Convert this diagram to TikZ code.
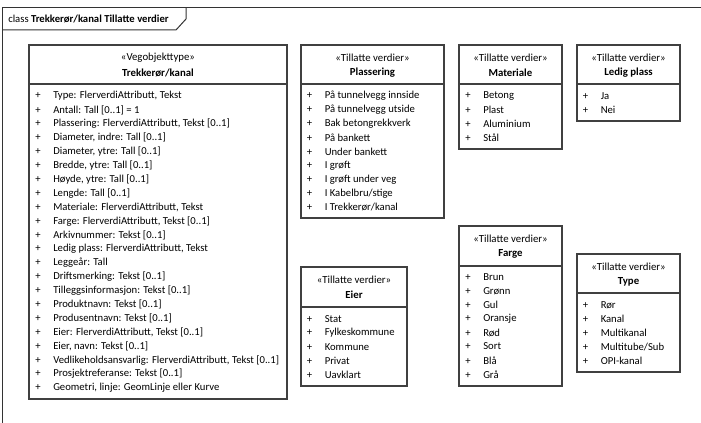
\documentclass[tikz,border=0pt]{standalone}
\usepackage{fontspec}
\setmainfont{Carlito}
\newcommand{\pl}{\makebox[13.5pt][l]{+}}

\begin{document}
\begin{tikzpicture}[x=0.75pt,y=-0.75pt,
  frame/.style={draw=black!80,line width=0.75pt},
  klasse/.style={draw=black!75,line width=0.9pt},
  stereo/.style={inner sep=0pt,font=\fontsize{8.1}{10}\selectfont},
  cname/.style={inner sep=0pt,font=\fontsize{8.1}{10}\selectfont\bfseries},
  item/.style={anchor=west,inner sep=0pt,font=\fontsize{8}{10}\selectfont}]
\useasboundingbox (0,0) rectangle (701,423);
% diagram frame
\draw[frame] (2,423) -- (2,8) -- (701,8);
\draw[frame] (2,30) -- (176,30) -- (186,19) -- (186,8);
\node[item] (title) at (8,19) {class \textbf{Trekkerør/kanal Tillatte verdier}};

% Trekkerør/kanal
\draw[klasse] (29,45) rectangle (287,399);
\draw[klasse] (29,84) -- (287,84);
\node[stereo] (kanal-st) at (158,58) {«Vegobjekttype»};
\node[cname] (kanal) at (158,73) {Trekkerør/kanal};
\node[item] (k1) at (35,96) {\pl Type: FlerverdiAttributt, Tekst};
\node[item] (k2) at (35,109.9) {\pl Antall: Tall [0..1] = 1};
\node[item] (k3) at (35,123.8) {\pl Plassering: FlerverdiAttributt, Tekst [0..1]};
\node[item] (k4) at (35,137.7) {\pl Diameter, indre: Tall [0..1]};
\node[item] (k5) at (35,151.6) {\pl Diameter, ytre: Tall [0..1]};
\node[item] (k6) at (35,165.5) {\pl Bredde, ytre: Tall [0..1]};
\node[item] (k7) at (35,179.4) {\pl Høyde, ytre: Tall [0..1]};
\node[item] (k8) at (35,193.3) {\pl Lengde: Tall [0..1]};
\node[item] (k9) at (35,207.2) {\pl Materiale: FlerverdiAttributt, Tekst};
\node[item] (k10) at (35,221.1) {\pl Farge: FlerverdiAttributt, Tekst [0..1]};
\node[item] (k11) at (35,235) {\pl Arkivnummer: Tekst [0..1]};
\node[item] (k12) at (35,248.9) {\pl Ledig plass: FlerverdiAttributt, Tekst};
\node[item] (k13) at (35,262.8) {\pl Leggeår: Tall};
\node[item] (k14) at (35,276.7) {\pl Driftsmerking: Tekst [0..1]};
\node[item] (k15) at (35,290.6) {\pl Tilleggsinformasjon: Tekst [0..1]};
\node[item] (k16) at (35,304.5) {\pl Produktnavn: Tekst [0..1]};
\node[item] (k17) at (35,318.4) {\pl Produsentnavn: Tekst [0..1]};
\node[item] (k18) at (35,332.3) {\pl Eier: FlerverdiAttributt, Tekst [0..1]};
\node[item] (k19) at (35,346.2) {\pl Eier, navn: Tekst [0..1]};
\node[item] (k20) at (35,360.1) {\pl Vedlikeholdsansvarlig: FlerverdiAttributt, Tekst [0..1]};
\node[item] (k21) at (35,374) {\pl Prosjektreferanse: Tekst [0..1]};
\node[item] (k22) at (35,387.9) {\pl Geometri, linje: GeomLinje eller Kurve};

% Plassering
\draw[klasse] (301,45) rectangle (444,218);
\draw[klasse] (301,84) -- (444,84);
\node[stereo] (plassering-st) at (372.5,58) {«Tillatte verdier»};
\node[cname] (plassering) at (372.5,73) {Plassering};
\node[item] (p1) at (306.5,96) {\pl På tunnelvegg innside};
\node[item] (p2) at (306.5,109.9) {\pl På tunnelvegg utside};
\node[item] (p3) at (306.5,123.8) {\pl Bak betongrekkverk};
\node[item] (p4) at (306.5,137.7) {\pl På bankett};
\node[item] (p5) at (306.5,151.6) {\pl Under bankett};
\node[item] (p6) at (306.5,165.5) {\pl I grøft};
\node[item] (p7) at (306.5,179.4) {\pl I grøft under veg};
\node[item] (p8) at (306.5,193.3) {\pl I Kabelbru/stige};
\node[item] (p9) at (306.5,207.2) {\pl I Trekkerør/kanal};

% Materiale
\draw[klasse] (459,45) rectangle (562,149);
\draw[klasse] (459,84) -- (562,84);
\node[stereo] (materiale-st) at (510.5,58) {«Tillatte verdier»};
\node[cname] (materiale) at (510.5,73) {Materiale};
\node[item] (m1) at (465,96) {\pl Betong};
\node[item] (m2) at (465,109.9) {\pl Plast};
\node[item] (m3) at (465,123.8) {\pl Aluminium};
\node[item] (m4) at (465,137.7) {\pl Stål};

% Ledig plass
\draw[klasse] (577,45) rectangle (680,121);
\draw[klasse] (577,84) -- (680,84);
\node[stereo] (ledig-st) at (628.5,58) {«Tillatte verdier»};
\node[cname] (ledig) at (628.5,73) {Ledig plass};
\node[item] (l1) at (582.5,96) {\pl Ja};
\node[item] (l2) at (582.5,109.9) {\pl Nei};

% Eier
\draw[klasse] (301,267) rectangle (407,386);
\draw[klasse] (301,307) -- (407,307);
\node[stereo] (eier-st) at (354,280) {«Tillatte verdier»};
\node[cname] (eier) at (354,295) {Eier};
\node[item] (e1) at (306.5,319) {\pl Stat};
\node[item] (e2) at (306.5,332.9) {\pl Fylkeskommune};
\node[item] (e3) at (306.5,346.8) {\pl Kommune};
\node[item] (e4) at (306.5,360.7) {\pl Privat};
\node[item] (e5) at (306.5,374.6) {\pl Uavklart};

% Farge
\draw[klasse] (459,226) rectangle (562,386);
\draw[klasse] (459,266) -- (562,266);
\node[stereo] (farge-st) at (510.5,239) {«Tillatte verdier»};
\node[cname] (farge) at (510.5,254) {Farge};
\node[item] (f1) at (465,277) {\pl Brun};
\node[item] (f2) at (465,290.9) {\pl Grønn};
\node[item] (f3) at (465,304.8) {\pl Gul};
\node[item] (f4) at (465,318.7) {\pl Oransje};
\node[item] (f5) at (465,332.6) {\pl Rød};
\node[item] (f6) at (465,346.5) {\pl Sort};
\node[item] (f7) at (465,360.4) {\pl Blå};
\node[item] (f8) at (465,374.3) {\pl Grå};

% Type
\draw[klasse] (577,254) rectangle (680,372);
\draw[klasse] (577,293) -- (680,293);
\node[stereo] (type-st) at (628.5,267) {«Tillatte verdier»};
\node[cname] (type) at (628.5,282) {Type};
\node[item] (t1) at (582.5,305) {\pl Rør};
\node[item] (t2) at (582.5,318.9) {\pl Kanal};
\node[item] (t3) at (582.5,332.8) {\pl Multikanal};
\node[item] (t4) at (582.5,346.7) {\pl Multitube/Sub};
\node[item] (t5) at (582.5,360.6) {\pl OPI-kanal};
\end{tikzpicture}
\end{document}
